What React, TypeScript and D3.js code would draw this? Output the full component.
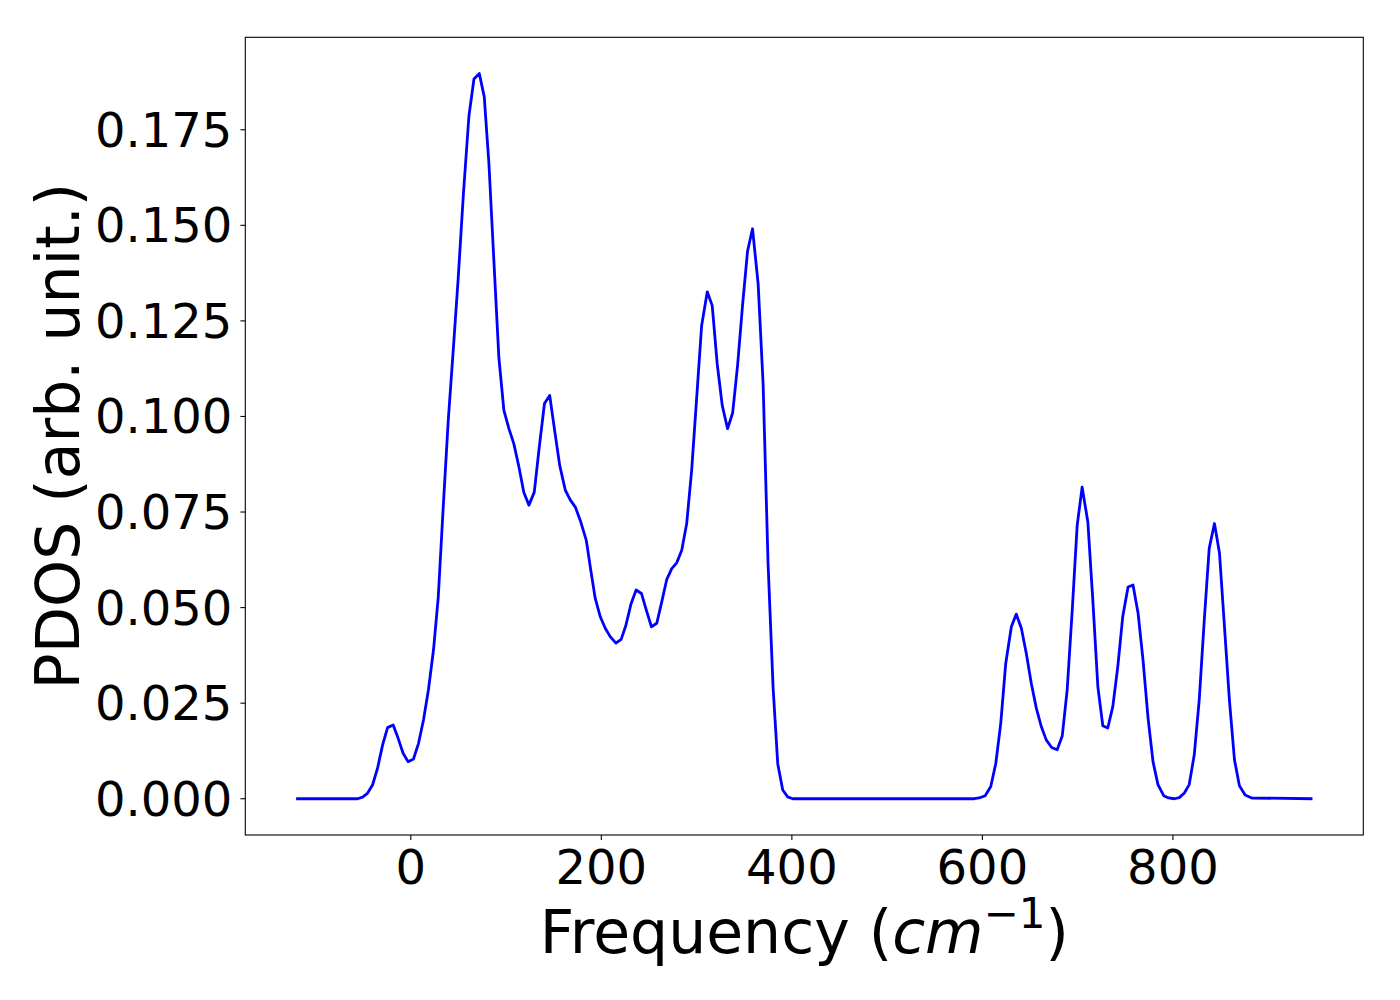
import React from "react";
import * as d3 from "d3";

const freq: number[] = [
  -120.4, -55.8, -50.6, -45.3, -40.1, -34.9, -29.6, -24.4, -18.5, -13.3, -8.1, -2.8,
  2.8, 8.1, 13.3, 18.5, 23.8, 28.8, 34.0, 39.3, 44.5, 49.7, 55.2, 61.0, 66.3, 71.9,
  77.1, 82.0, 87.2, 92.4, 97.7, 102.9, 108.1, 113.4, 118.6, 124.0, 129.6, 134.8,
  140.3, 145.8, 151.0, 156.3, 162.2, 167.5, 172.7, 177.9, 184.2, 188.9, 193.6,
  198.9, 204.1, 209.3, 215.3, 220.8, 225.8, 231.3, 236.5, 242.1, 247.3, 252.6,
  258.2, 263.4, 268.7, 273.9, 279.1, 284.4, 289.6, 294.8, 300.1, 305.3, 311.2,
  316.4, 321.6, 326.9, 332.5, 337.8, 343.0, 348.2, 353.5, 358.7, 364.6, 369.8,
  375.0, 380.3, 385.2, 390.4, 395.6, 400.9, 591.4, 596.6, 602.9, 608.8, 614.1,
  619.3, 624.5, 630.4, 635.6, 640.9, 646.1, 651.3, 656.6, 661.8, 667.0, 672.7,
  678.5, 683.8, 689.0, 694.3, 699.5, 704.7, 710.7, 715.9, 721.2, 726.4, 731.6,
  736.9, 742.1, 747.3, 752.9, 758.1, 763.4, 768.6, 773.9, 779.1, 784.3, 790.3,
  795.5, 801.5, 806.7, 812.0, 817.1, 822.4, 827.6, 832.9, 838.1, 843.6, 848.9,
  854.1, 859.3, 864.6, 869.8, 875.8, 882.7, 946.5,
];

const pdos: number[] = [
  0, 0, 0.00044, 0.00149, 0.00366, 0.00802, 0.0141, 0.0186, 0.0193, 0.0158, 0.0119, 0.0097,
  0.0104, 0.0145, 0.0206, 0.0285, 0.0389, 0.0527, 0.0762, 0.099, 0.1172, 0.136, 0.1582, 0.1786, 0.1883, 0.1897,
  0.1836, 0.1661, 0.1407, 0.1155, 0.1016, 0.0969, 0.0929, 0.0869, 0.0802, 0.0768, 0.0802, 0.0919,
  0.1034, 0.1055, 0.0963, 0.0872, 0.0807, 0.0781, 0.0763, 0.0728, 0.0676, 0.0598, 0.0524,
  0.0476, 0.0446, 0.0424, 0.0407, 0.0417, 0.0454, 0.0511, 0.0546, 0.0537, 0.0493, 0.045,
  0.0459, 0.0515, 0.0574, 0.0602, 0.0617, 0.065, 0.072, 0.0859, 0.105, 0.1238, 0.1326,
  0.129, 0.1138, 0.1029, 0.0968, 0.1009, 0.1133, 0.129, 0.1433, 0.1491, 0.1347, 0.1086,
  0.0616, 0.029, 0.0091, 0.0023, 0.0005, 0, 0, 0.0002, 0.0008, 0.0032, 0.0093,
  0.0198, 0.0354, 0.045, 0.0483, 0.0446, 0.038, 0.0302, 0.0237, 0.0189, 0.0154, 0.0134,
  0.0128, 0.0164, 0.0285, 0.0493, 0.0715, 0.0815, 0.0724, 0.052, 0.0293, 0.0191, 0.0185,
  0.0241, 0.0345, 0.0476, 0.0554, 0.0559, 0.0486, 0.0363, 0.0211, 0.0097, 0.0037, 0.0008,
  0.0002, 0, 0.0003, 0.0015, 0.0037, 0.0115, 0.0258, 0.0467, 0.0655, 0.072, 0.0642,
  0.045, 0.0258, 0.0102, 0.0034, 0.001, 0.0002, 0,
];

const xTicks: number[] = [0, 200, 400, 600, 800];
const yTicks: number[] = [0, 0.025, 0.05, 0.075, 0.1, 0.125, 0.15, 0.175];

const W = 1400;
const H = 1000;
const L = 245.3;
const R = 1363.3;
const T = 37.3;
const B = 835;
const FONT = "'DejaVu Sans', sans-serif";

export default function App() {
  const data = freq.map((f, i) => ({ f, v: pdos[i] }));
  const [xmin, xmax] = d3.extent(freq) as [number, number];
  const xpad = (xmax - xmin) * 0.05;
  const ymax = d3.max(pdos) as number;
  const ymin = 0;
  const ypad = (ymax - ymin) * 0.05;
  const x = d3.scaleLinear().domain([xmin - xpad, xmax + xpad]).range([L, R]);
  const y = d3.scaleLinear().domain([ymin - ypad, ymax + ypad]).range([B, T]);
  const line = d3
    .line<{ f: number; v: number }>()
    .x((d) => x(d.f))
    .y((d) => y(d.v));
  const fmt = d3.format(".3f");
  const tickLen = 4.9;
  const tickFont = 48;

  return (
    <svg
      width={W}
      height={H}
      style={{ position: "absolute", left: 0, top: 0, background: "#fff" }}
      fontFamily={FONT}
    >
      <rect x={0} y={0} width={W} height={H} fill="#fff" />
      <path d={line(data) || ""} fill="none" stroke="#0000ff" strokeWidth={2.8} strokeLinejoin="round" />
      <rect x={L} y={T} width={R - L} height={B - T} fill="none" stroke="#000" strokeWidth={1.1} />
      {xTicks.map((t) => (
        <g key={"x" + t}>
          <line x1={x(t)} x2={x(t)} y1={B} y2={B + tickLen} stroke="#000" strokeWidth={1.1} />
          <text x={x(t)} y={B + 49} textAnchor="middle" fontSize={tickFont} fill="#000">
            {String(t)}
          </text>
        </g>
      ))}
      {yTicks.map((t) => (
        <g key={"y" + t}>
          <line x1={L - tickLen} x2={L} y1={y(t)} y2={y(t)} stroke="#000" strokeWidth={1.1} />
          <text x={L - 13} y={y(t) + 17} textAnchor="end" fontSize={tickFont} fill="#000">
            {fmt(t)}
          </text>
        </g>
      ))}
      <text x={(L + R) / 2} y={953} textAnchor="middle" fontSize={60} fill="#000">
        <tspan>Frequency (</tspan>
        <tspan fontStyle="italic">cm</tspan>
        <tspan fontSize={42} dy={-25}>−1</tspan>
        <tspan dy={25}>)</tspan>
      </text>
      <text
        transform={`translate(79, ${(T + B) / 2}) rotate(-90)`}
        textAnchor="middle"
        fontSize={60}
        fill="#000"
      >
        PDOS (arb. unit.)
      </text>
    </svg>
  );
}
